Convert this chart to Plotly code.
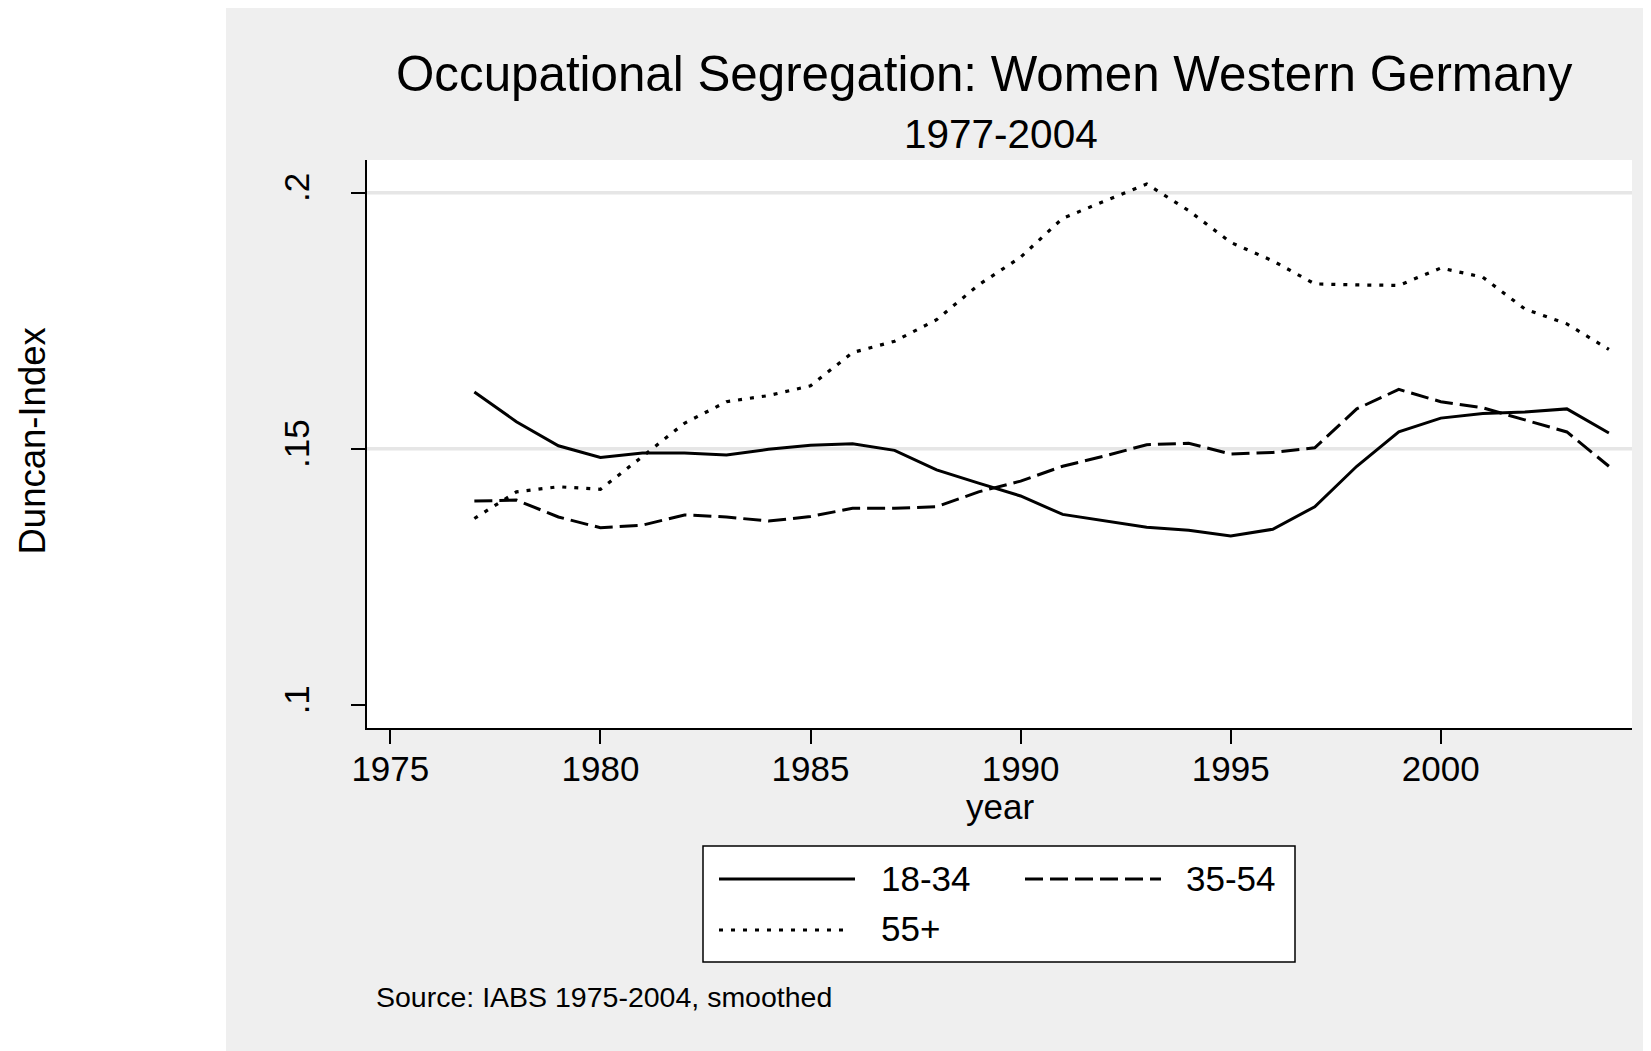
import plotly.graph_objects as go

# ---------------- data ----------------
years = list(range(1977, 2005))
age_18_34 = [0.1611, 0.1553, 0.1506, 0.1483, 0.1492, 0.1492, 0.1488, 0.1499, 0.1507, 0.1510,
             0.1497, 0.1459, 0.1433, 0.1408, 0.1372, 0.1359, 0.1347, 0.1341, 0.1330, 0.1343,
             0.1387, 0.1466, 0.1533, 0.1560, 0.1569, 0.1572, 0.1578, 0.1531]
age_35_54 = [0.1398, 0.1400, 0.1367, 0.1346, 0.1351, 0.1371, 0.1367, 0.1359, 0.1368, 0.1384,
             0.1384, 0.1387, 0.1416, 0.1437, 0.1466, 0.1486, 0.1508, 0.1511, 0.1490, 0.1493,
             0.1502, 0.1578, 0.1616, 0.1592, 0.1580, 0.1556, 0.1533, 0.1466]
age_55_plus = [0.1364, 0.1416, 0.1426, 0.1421, 0.1485, 0.1550, 0.1592, 0.1604, 0.1623, 0.1688,
               0.1710, 0.1752, 0.1820, 0.1874, 0.1950, 0.1983, 0.2017, 0.1965, 0.1903, 0.1867,
               0.1822, 0.1820, 0.1819, 0.1853, 0.1835, 0.1773, 0.1744, 0.1694]
series_names = ["18-34", "35-54", "55+"]
x_tick_vals = [1975, 1980, 1985, 1990, 1995, 2000]
x_tick_text = ["1975", "1980", "1985", "1990", "1995", "2000"]
y_tick_vals = [0.1, 0.15, 0.2]
y_tick_text = [".1", ".15", ".2"]
y_grid_vals = [0.15, 0.2]

title_text = "Occupational Segregation: Women Western Germany"
subtitle_text = "1977-2004"
x_title = "year"
y_title = "Duncan-Index"
note_text = "Source: IABS 1975-2004, smoothed"

# ---------------- layout geometry (target page pixels) ----------------
OFF = 8  # default page body margin
W, H = 1651 - OFF, 1051 - OFF
PL, PR, PT, PB = 367, 1632, 160, 728   # plot area in page pixels
FONT = "Liberation Sans, Arial, Helvetica, sans-serif"
GRAY = "#efefef"


def px(x):
    return (x - PL) / (PR - PL)


def py(y):
    return (PB - y) / (PB - PT)


styles = [
    dict(color="black", width=3.0, dash="solid"),
    dict(color="black", width=3.0, dash="18px,7px"),
    dict(color="black", width=3.2, dash="4px,8px"),
]

fig = go.Figure()
for name, vals, st in zip(series_names, [age_18_34, age_35_54, age_55_plus], styles):
    fig.add_trace(go.Scatter(x=years, y=vals, mode="lines", name=name, line=st,
                             showlegend=False))

shapes = []
# white strips outside the gray graph region
shapes.append(dict(type="rect", xref="paper", yref="paper", x0=px(-20), x1=px(226),
                   y0=py(H + 30), y1=py(-20), fillcolor="white", line=dict(width=0),
                   layer="below"))
shapes.append(dict(type="rect", xref="paper", yref="paper", x0=px(-20), x1=px(W + 30),
                   y0=py(6), y1=py(-20), fillcolor="white", line=dict(width=0),
                   layer="below"))
# gridlines
for g in y_grid_vals:
    shapes.append(dict(type="line", xref="paper", yref="y", x0=0, x1=1, y0=g, y1=g,
                       line=dict(color="#e6e6e6", width=3.5), layer="below"))
# legend box
LX0, LX1, LY0, LY1 = 703, 1295, 846, 962
shapes.append(dict(type="rect", xref="paper", yref="paper", x0=px(LX0), x1=px(LX1),
                   y0=py(LY1), y1=py(LY0), fillcolor="white",
                   line=dict(color="black", width=1.5), layer="above"))
legend_items = [
    (719, 855, 879, 879, 878),
    (1025, 1161, 879, 1184, 878),
    (719, 850, 930, 879, 928),
]
annotations = []
for (sx0, sx1, sy, tx, ty), name, st in zip(legend_items, series_names, styles):
    shapes.append(dict(type="line", xref="paper", yref="paper", x0=px(sx0), x1=px(sx1),
                       y0=py(sy), y1=py(sy), line=st, layer="above"))
    annotations.append(dict(text=name, xref="paper", yref="paper", x=px(tx), y=py(ty),
                            xanchor="left", yanchor="middle", showarrow=False,
                            font=dict(size=35, color="black", family=FONT)))

annotations += [
    dict(text=title_text, xref="paper", yref="paper", x=px(984), y=py(73),
         xanchor="center", yanchor="middle", showarrow=False,
         font=dict(size=49.3, color="black", family=FONT)),
    dict(text=subtitle_text, xref="paper", yref="paper", x=px(1001), y=py(134),
         xanchor="center", yanchor="middle", showarrow=False,
         font=dict(size=40.5, color="black", family=FONT)),
    dict(text=x_title, xref="paper", yref="paper", x=px(1000), y=py(806),
         xanchor="center", yanchor="middle", showarrow=False,
         font=dict(size=35, color="black", family=FONT)),
    dict(text=y_title, xref="paper", yref="paper", x=px(OFF + 1), y=py(441),
         xanchor="left", yanchor="middle", showarrow=False, textangle=-90,
         font=dict(size=36.5, color="black", family=FONT)),
    dict(text=note_text, xref="paper", yref="paper", x=px(374), y=py(997),
         xanchor="left", yanchor="middle", showarrow=False,
         font=dict(size=28.5, color="black", family=FONT)),
]

fig.update_layout(
    width=W, height=H, autosize=False,
    margin=dict(l=PL - OFF, r=(W + OFF) - PR, t=PT - OFF, b=(H + OFF) - PB, pad=0),
    paper_bgcolor=GRAY, plot_bgcolor="white",
    font=dict(family=FONT, color="black", size=35),
    shapes=shapes, annotations=annotations, showlegend=False,
    xaxis=dict(range=[1974.445, 2004.55], tickvals=x_tick_vals, ticktext=x_tick_text,
               showgrid=False, zeroline=False, showline=True, linecolor="black",
               linewidth=2, ticks="outside", ticklen=14, tickwidth=2, tickcolor="black",
               tickfont=dict(size=35, color="black", family=FONT),
               ticklabelstandoff=-5, fixedrange=True),
    yaxis=dict(range=[0.09551, 0.20638], tickvals=y_tick_vals, ticktext=y_tick_text,
               showgrid=False, zeroline=False, showline=True, linecolor="black",
               linewidth=2, ticks="outside", ticklen=14, tickwidth=2, tickcolor="black",
               tickangle=-90, tickfont=dict(size=35, color="black", family=FONT),
               ticklabelstandoff=28, fixedrange=True),
)

fig.write_html("out.html")
